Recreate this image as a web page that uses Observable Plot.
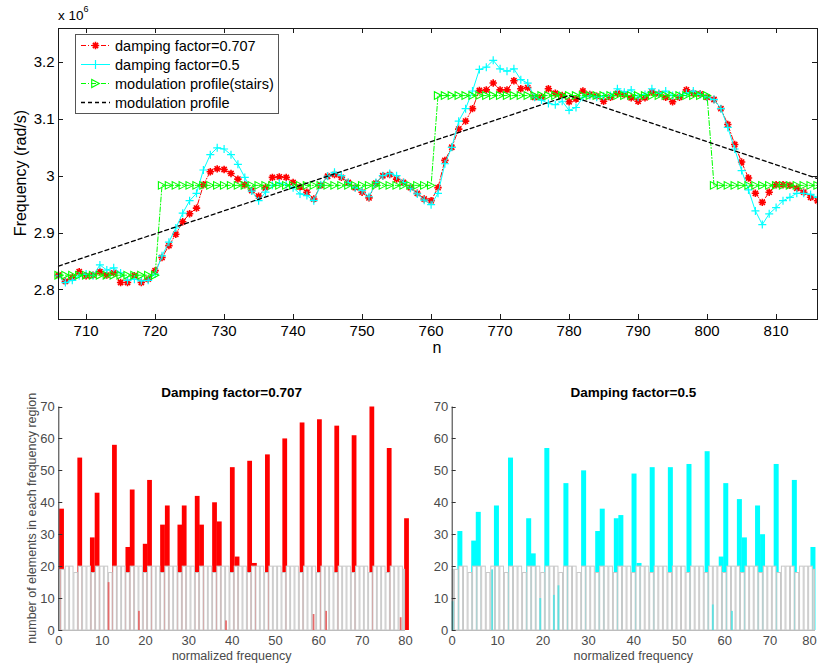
<!DOCTYPE html>
<html><head><meta charset="utf-8">
<script src="https://cdn.jsdelivr.net/npm/d3@7"></script>
<script src="https://cdn.jsdelivr.net/npm/@observablehq/plot@0.6"></script>
<style>
body{margin:0;background:#fff;}
#root{position:relative;width:818px;height:670px;overflow:hidden;font-family:"Liberation Sans",Arial,sans-serif;}
#root svg{position:absolute;overflow:visible;}
</style></head><body><div id="root"></div>
<script>
// ---------------- data (top chart, values in 10^6 rad/s) ----------------
const n = d3.range(706, 817);
const damp0707 = [
2.826,2.815,2.822,2.832,2.825,2.826,2.832,2.826,2.830,2.813,2.813,2.825,2.813,2.819,
2.834,2.857,2.878,2.898,2.920,2.934,2.944,2.985,3.008,3.013,3.012,3.005,2.995,2.985,2.975,2.965,2.980,2.998,2.999,2.998,
2.989,2.981,2.972,2.960,2.984,3.000,3.003,2.998,2.989,2.980,2.972,2.962,2.988,3.001,3.003,2.995,2.989,2.980,2.970,2.960,
2.957,2.980,3.028,3.051,3.083,3.097,3.119,3.151,3.152,3.164,3.152,3.152,3.168,3.154,3.156,3.139,3.139,3.154,3.146,3.142,
3.131,3.136,3.150,3.144,3.141,3.132,3.139,3.146,3.144,3.138,3.132,3.138,3.148,3.145,3.139,3.131,3.139,3.152,3.146,3.145,
3.139,3.135,3.119,3.091,3.056,3.025,2.997,2.970,2.954,2.972,2.985,2.985,2.984,2.979,2.972,2.963,2.957];
const damp05 = [
2.825,2.813,2.817,2.825,2.828,2.825,2.844,2.835,2.839,2.830,2.817,2.819,2.816,2.817,
2.828,2.860,2.884,2.909,2.935,2.957,2.970,3.011,3.038,3.050,3.048,3.038,3.021,2.998,2.974,2.957,2.972,2.984,2.988,2.985,
2.980,2.969,2.966,2.957,2.985,3.000,3.007,3.001,2.989,2.980,2.975,2.964,2.989,3.001,3.005,3.001,2.989,2.979,2.969,2.958,
2.950,2.970,3.022,3.051,3.097,3.119,3.150,3.188,3.192,3.204,3.189,3.185,3.189,3.170,3.164,3.139,3.134,3.128,3.126,3.132,
3.116,3.121,3.139,3.142,3.139,3.141,3.142,3.154,3.148,3.152,3.139,3.144,3.154,3.146,3.150,3.142,3.142,3.146,3.150,3.144,
3.139,3.135,3.119,3.086,3.048,3.010,2.976,2.939,2.915,2.934,2.945,2.957,2.963,2.970,2.970,2.968,2.963];
const stairs = [
2.826,2.826,2.826,2.826,2.826,2.826,2.826,2.826,2.826,2.826,2.826,2.826,2.826,2.826,2.826,
2.984,2.984,2.984,2.984,2.984,2.984,2.984,2.984,2.984,2.984,2.984,2.984,2.984,2.984,2.984,2.984,2.984,2.984,2.984,2.984,
2.984,2.984,2.984,2.984,2.984,2.984,2.984,2.984,2.984,2.984,2.984,2.984,2.984,2.984,2.984,2.984,2.984,2.984,2.984,2.984,
3.142,3.142,3.142,3.142,3.142,3.142,3.142,3.142,3.142,3.142,3.142,3.142,3.142,3.142,3.142,3.142,3.142,3.142,3.142,3.142,
3.142,3.142,3.142,3.142,3.142,3.142,3.142,3.142,3.142,3.142,3.142,3.142,3.142,3.142,3.142,3.142,3.142,3.142,3.142,3.142,
2.984,2.984,2.984,2.984,2.984,2.984,2.984,2.984,2.984,2.984,2.984,2.984,2.984,2.984,2.984,2.984];
const profileN = [706, 780, 816];
const profileV = [2.842, 3.142, 2.996];
const topXTicks = [710, 720, 730, 740, 750, 760, 770, 780, 790, 800, 810];
const topYTicks = [2.8, 2.9, 3.0, 3.1, 3.2];
const legendLabels = ["damping factor=0.707", "damping factor=0.5", "modulation profile(stairs)", "modulation profile"];

// ---------------- data (histograms) ----------------
const redBinX = [0.2,4.4,7.3,8.4,12.4,15.5,16.5,19.5,20.5,23.5,24.6,27.5,28.5,31.5,32.5,35.5,36.6,39.6,40.7,43.6,44.7,47.7,51.7,55.7,59.7,63.7,67.7,71.8,75.8,79.8];
const redBinV = [38,54,29,43,58,26,44,27,47,33,39,33,39,42,33,40,34,51,23,53,21,55,60,65,66,64,61,70,57,35];
const redLowX = [11.4,18.4,38.5,58.7,61.6,78.8];
const redLowV = [15,6,3,5,6,4];
const cyanBinX = [1.25,4.3,5.3,9.3,12.4,16.4,17.4,20.4,24.6,28.5,31.6,32.6,35.7,36.7,39.6,40.7,43.6,47.6,51.7,55.7,58.8,59.8,62.8,63.9,66.8,67.9,70.9,74.9,79.0];
const cyanBinV = [31,28,37,39,54,35,24,57,46,50,31,38,35,36,49,21,51,51,52,56,23,46,41,29,39,30,52,47,26];
const cyanLowX = [0.0,8.7,19.3,22.3,23.3,57.3,61.5];
const cyanLowV = [9,19,10,11,14,8,6];
const refBinK = d3.range(0, 81);
const refBinV = [19,19,20,20,18,20,20,20,18,20,20,20,18,20,20,20,18,20,20,20,18,20,20,20,18,20,20,20,18,20,20,20,18,20,20,20,18,20,20,20,18,
                 20,20,20,18,20,20,20,18,20,20,20,18,20,20,20,18,20,20,20,18,20,20,20,18,20,20,20,18,20,20,20,18,20,20,20,18,20,20,20,19];
const histXTicks = [0,10,20,30,40,50,60,70,80];
const histYTicks = [0,10,20,30,40,50,60,70];

// ---------------- helpers ----------------
const FONT = '"Liberation Sans", Arial, Helvetica, sans-serif';
const root = document.getElementById("root");
function sym(drawFn){ return {draw(ctx, size){ drawFn(ctx, Math.sqrt(size / Math.PI)); }}; }
const star8 = sym((c, r) => { for (let a = 0; a < 4; a++) { const t = a * Math.PI / 4; c.moveTo(-r*Math.cos(t), -r*Math.sin(t)); c.lineTo(r*Math.cos(t), r*Math.sin(t)); } });
const plus = sym((c, r) => { c.moveTo(-r,0); c.lineTo(r,0); c.moveTo(0,-r); c.lineTo(0,r); });
const triRight = sym((c, r) => { c.moveTo(r*0.95,0); c.lineTo(-r*0.95,-r); c.lineTo(-r*0.95,r); c.closePath(); });

function place(el, left, top){ el.style.left = left + "px"; el.style.top = top + "px"; root.appendChild(el); return el; }

// ---------------- top chart ----------------
const rows = n.map((x, i) => ({n: x, a: damp0707[i], b: damp05[i], s: stairs[i]}));
const prof = profileN.map((x, i) => ({n: x, v: profileV[i]}));
const topPlot = Plot.plot({
  width: 818, height: 370,
  marginLeft: 58, marginRight: 1, marginTop: 28, marginBottom: 51,
  style: {fontFamily: FONT, fontSize: "15px", color: "#000", background: "transparent"},
  x: {domain: [706, 816], label: null},
  y: {domain: [2.748, 3.26], label: null},
  marks: [
    Plot.axisX({ticks: topXTicks, tickSize: 0, tickPadding: 6, fontSize: 15, label: null, tickFormat: d => String(d)}),
    Plot.axisY({ticks: topYTicks, tickSize: 0, tickPadding: 4, fontSize: 15, label: null, tickFormat: d => (Math.abs(d - 3) < 1e-9 ? "3" : d.toFixed(1))}),
    Plot.line(rows, {x: "n", y: "a", stroke: "#ff0000", strokeWidth: 1, strokeDasharray: "5,2,1,2"}),
    Plot.dot(rows, {x: "n", y: "a", symbol: star8, r: 3.7, stroke: "#ff0000", strokeWidth: 1.6, fill: "none"}),
    Plot.line(rows, {x: "n", y: "b", stroke: "#00ffff", strokeWidth: 1}),
    Plot.dot(rows, {x: "n", y: "b", symbol: plus, r: 4, stroke: "#00ffff", strokeWidth: 1.2, fill: "none"}),
    Plot.line(rows, {x: "n", y: "s", stroke: "#00ff00", strokeWidth: 1, strokeDasharray: "5,2,1,2"}),
    Plot.dot(rows, {x: "n", y: "s", symbol: triRight, r: 3.8, stroke: "#00ff00", strokeWidth: 1.1, fill: "none"}),
    Plot.line(prof, {x: "n", y: "v", stroke: "#000", strokeWidth: 1.3, strokeDasharray: "4,3"}),
    Plot.frame({stroke: "#1a1a1a", strokeWidth: 1})
  ]
});
place(topPlot, 0, 0);
{
  const svg = d3.select(topPlot);
  const sx = topPlot.scale("x"), sy = topPlot.scale("y");
  const L = 58, R = 817, T = 28, B = 319, tl = 5;
  const g = svg.append("g").attr("stroke", "#1a1a1a").attr("stroke-width", 1);
  topXTicks.forEach(v => { const x = Math.round(sx.apply(v)) + 0.5;
    g.append("line").attr("x1", x).attr("x2", x).attr("y1", B).attr("y2", B - tl);
    g.append("line").attr("x1", x).attr("x2", x).attr("y1", T).attr("y2", T + tl); });
  topYTicks.forEach(v => { const y = Math.round(sy.apply(v)) + 0.5;
    g.append("line").attr("x1", L).attr("x2", L + tl).attr("y1", y).attr("y2", y);
    g.append("line").attr("x1", R).attr("x2", R - tl).attr("y1", y).attr("y2", y); });
  // axis labels
  svg.append("text").attr("x", 437).attr("y", 353).attr("text-anchor", "middle")
     .attr("font-family", FONT).attr("font-size", 16).text("n");
  svg.append("text").attr("transform", "translate(26,173) rotate(-90)").attr("text-anchor", "middle")
     .attr("font-family", FONT).attr("font-size", 16).text("Frequency (rad/s)");
  const ex = svg.append("text").attr("x", 58).attr("y", 20).attr("text-anchor", "start").attr("font-family", FONT).attr("font-size", 13.5);
  ex.append("tspan").text("x 10");
  ex.append("tspan").attr("dy", -8).attr("font-size", 9).text("6");
  // legend
  const lg = svg.append("g");
  lg.append("rect").attr("x", 75.5).attr("y", 34.5).attr("width", 203).attr("height", 79)
    .attr("fill", "#fff").attr("stroke", "#555").attr("stroke-width", 1);
  const ly = [45.5, 64.5, 83.5, 102.5];
  const styles = [
    {stroke: "#ff0000", dash: "5,2,1,2", sym: star8, r: 3.7, sw: 1.6},
    {stroke: "#00ffff", dash: null, sym: plus, r: 4.5, sw: 1.2},
    {stroke: "#00ff00", dash: "5,2,1,2", sym: triRight, r: 4, sw: 1.1},
    {stroke: "#000", dash: "4,3", sym: null}
  ];
  styles.forEach((s, i) => {
    lg.append("line").attr("x1", 81).attr("x2", 110).attr("y1", ly[i]).attr("y2", ly[i])
      .attr("stroke", s.stroke).attr("stroke-width", s.sym ? 1 : 1.3).attr("stroke-dasharray", s.dash);
    if (s.sym) lg.append("path").attr("transform", `translate(95.5,${ly[i]})`)
      .attr("d", d3.symbol(s.sym, Math.PI * s.r * s.r)()).attr("fill", "none")
      .attr("stroke", s.stroke).attr("stroke-width", s.sw);
    lg.append("text").attr("x", 115).attr("y", ly[i]).attr("dy", "0.35em").attr("text-anchor", "start")
      .attr("font-family", FONT).attr("font-size", 14.5).attr("fill", "#000").text(legendLabels[i]);
  });
}

// ---------------- histograms ----------------
function histogram({binX, binV, lowX, lowV, color, lowColor, title, left, width, mLeft, mRight, yLabel, lastDx}) {
  const bins = binX.map((x, i) => ({x1: x, x2: x + 1.1, v: binV[i]}));
  const lows = lowX.map((x, i) => ({x1: x, x2: x + 0.4, v: lowV[i]}));
  const refs = refBinK.map((k, i) => ({x1: Math.max(0, k - 0.5) + 0.1, x2: Math.min(80, k + 0.5) - 0.1, v: refBinV[i]}));
  const p = Plot.plot({
    width, height: 290, marginLeft: mLeft, marginRight: mRight, marginTop: 26.5, marginBottom: 40,
    style: {fontFamily: FONT, fontSize: "12.5px", color: "#4a4a4a", background: "transparent", overflow: "visible"},
    x: {domain: [0, 80], label: null},
    y: {domain: [0, 70], label: null},
    marks: [
      Plot.axisX({ticks: histXTicks.slice(0, -1), tickSize: 0, tickPadding: 5, fontSize: 13, label: null}),
      Plot.axisX({ticks: histXTicks.slice(-1), tickSize: 0, tickPadding: 5, fontSize: 13, label: null, dx: lastDx}),
      Plot.axisY({ticks: histYTicks, tickSize: 0, tickPadding: 4, fontSize: 13, label: null}),
      Plot.rect(bins, {x1: "x1", x2: "x2", y1: 0, y2: "v", fill: color}),
      Plot.rect(refs, {x1: "x1", x2: "x2", y1: 0, y2: "v", fill: "#fff", stroke: "#c8c8c8", strokeWidth: 1}),
      Plot.rect(lows, {x1: "x1", x2: "x2", y1: 0, y2: "v", fill: lowColor}),
      Plot.ruleX([0], {stroke: "#333", strokeWidth: 1}),
      Plot.ruleY([0], {stroke: "#bdbdbd", strokeWidth: 1})
    ]
  });
  place(p, left, 380);
  const svg = d3.select(p);
  const sx = p.scale("x"), sy = p.scale("y");
  const x0 = sx.apply(0);
  const g = svg.append("g").attr("stroke", "#333").attr("stroke-width", 1);
  histYTicks.forEach(v => { const y = Math.round(sy.apply(v)) + 0.5;
    g.append("line").attr("x1", x0).attr("x2", x0 + 4).attr("y1", y).attr("y2", y); });
  const cx = (sx.apply(0) + sx.apply(80)) / 2;
  svg.append("text").attr("x", cx).attr("y", 17).attr("text-anchor", "middle")
    .attr("font-family", FONT).attr("font-size", 13.5).attr("font-weight", "bold").attr("fill", "#000").text(title);
  svg.append("text").attr("x", cx).attr("y", 280).attr("text-anchor", "middle")
    .attr("font-family", FONT).attr("font-size", 12.5).attr("fill", "#4a4a4a").text("normalized frequency");
  if (yLabel) svg.append("text").attr("transform", `translate(36,${(sy.apply(0) + sy.apply(70)) / 2}) rotate(-90)`)
    .attr("text-anchor", "middle").attr("font-family", FONT).attr("font-size", 12.5).attr("fill", "#4a4a4a").text(yLabel);
}
histogram({binX: redBinX, binV: redBinV, lowX: redLowX, lowV: redLowV, color: "#ff0000", lowColor: "#e56a6a",
  title: "Damping factor=0.707", left: 0, width: 410, mLeft: 58.3, mRight: 5,
  yLabel: "number of elements in each frequency region", lastDx: 0});
histogram({binX: cyanBinX, binV: cyanBinV, lowX: cyanLowX, lowV: cyanLowV, color: "#00ffff", lowColor: "#5fe0e0",
  title: "Damping factor=0.5", left: 410, width: 408, mLeft: 41.7, mRight: 3, yLabel: null, lastDx: -6});
</script></body></html>
